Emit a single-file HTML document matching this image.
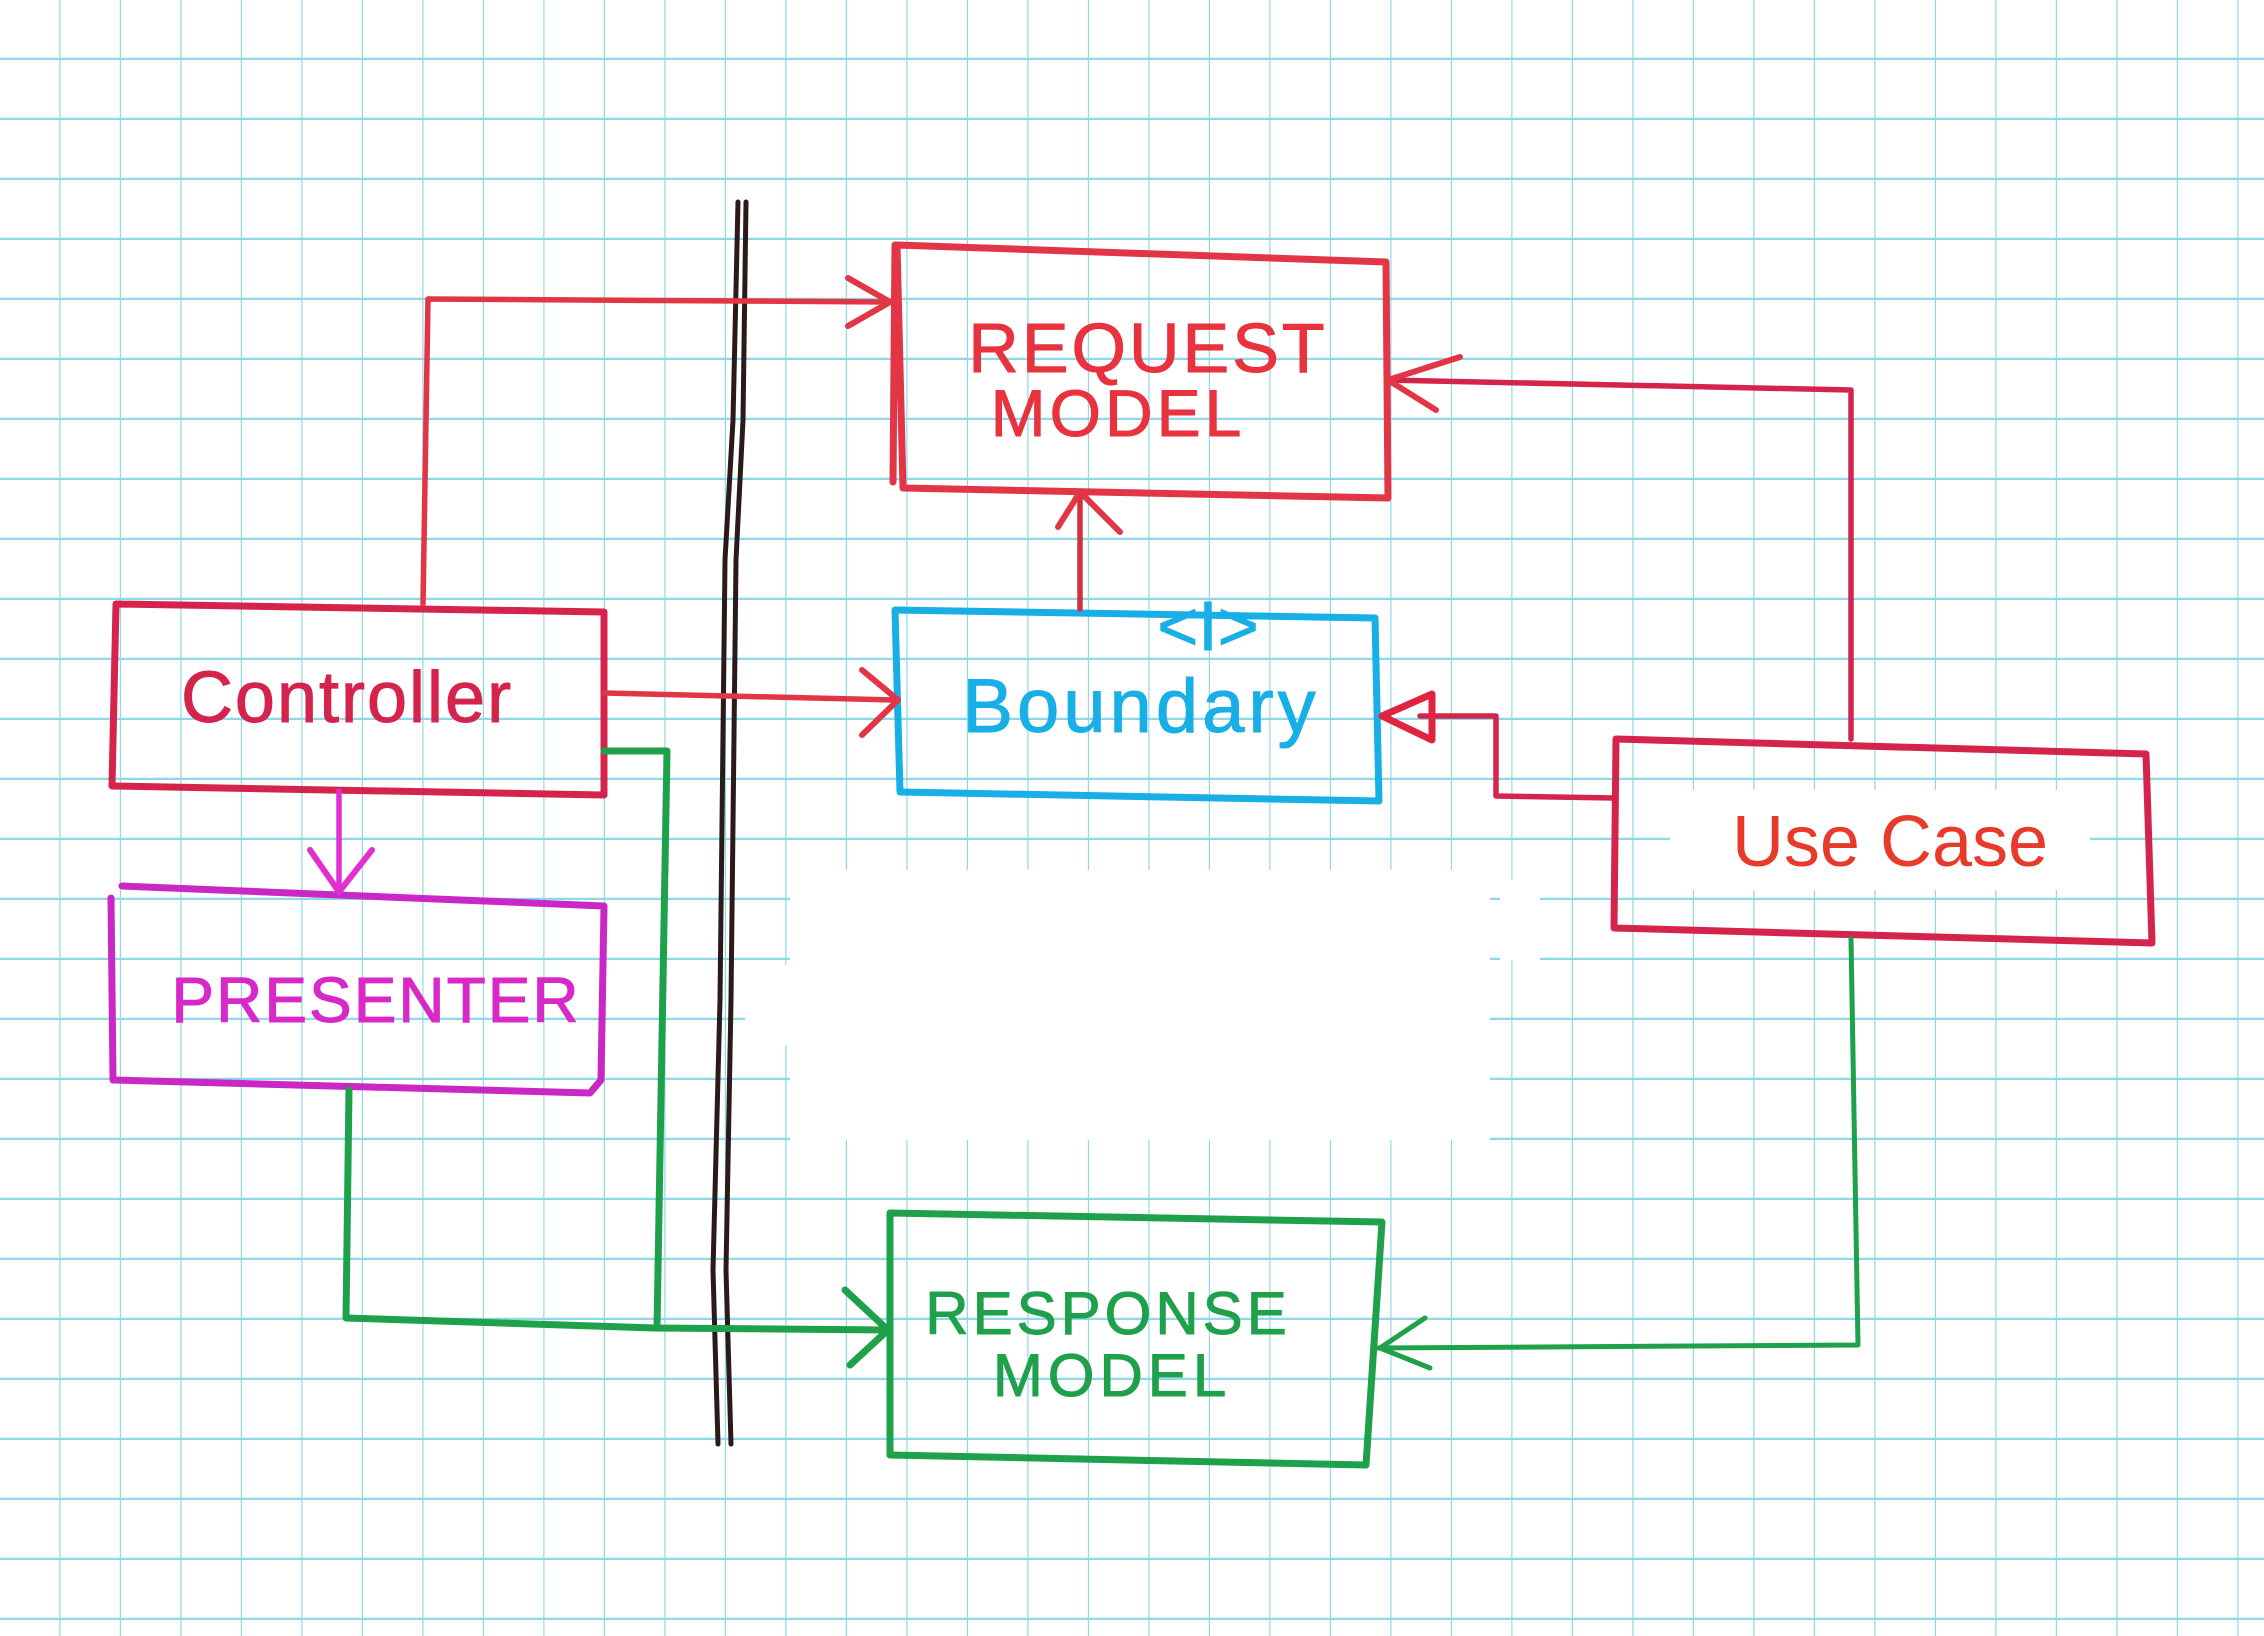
<!DOCTYPE html>
<html><head><meta charset="utf-8"><style>
html,body{margin:0;padding:0;background:#fff;}
svg{display:block;}
text{font-family:"Liberation Sans",sans-serif;stroke-width:1;}
</style></head><body>
<svg width="2264" height="1636" viewBox="0 0 2264 1636" xmlns="http://www.w3.org/2000/svg">
<defs>
<pattern id="g" x="0" y="0" width="60.5" height="60" patternUnits="userSpaceOnUse">
<path d="M60.5 0V60M0 59H60.5" stroke="#8fd8e8" stroke-width="2.4" fill="none"/>
</pattern>
</defs>
<rect width="2264" height="1636" fill="#fff"/>
<rect x="0" y="0" width="2264" height="1636" fill="url(#g)"/>
<rect x="790" y="870" width="700" height="270" fill="#fff"/>
<rect x="745" y="965" width="140" height="80" fill="#fff"/>
<rect x="1500" y="880" width="40" height="80" fill="#fff"/>
<rect x="1670" y="790" width="420" height="100" fill="#fff"/>

<g fill="none" stroke-linecap="round" stroke-linejoin="round">
<path d="M738 202 L733 420 L725 560 L720 1000 L713 1270 L718 1444" stroke="#2a1a1a" stroke-width="5"/>
<path d="M746 202 L743 420 L736 560 L731 1000 L726 1270 L731 1444" stroke="#2a1a1a" stroke-width="5"/>

<path d="M897 245 L1386 262 L1388 498 L903 488 Z M895 245 L893 482" stroke="#e23545" stroke-width="7"/>
<path d="M895 610 L1375 618 L1379 801 L900 792 Z" stroke="#18aee6" stroke-width="7"/>
<path d="M116 604 L604 612 L604 795 L112 786 Z" stroke="#d4244c" stroke-width="7"/>
<path d="M122 886 L604 906 L601 1080 L590 1093 L113 1080 L111 898" stroke="#c928c4" stroke-width="7"/>
<path d="M1616 739 L2146 754 L2152 943 L1614 928 Z" stroke="#d4244c" stroke-width="7"/>
<path d="M890 1213 L1382 1222 L1366 1465 L890 1455 Z" stroke="#1ea14a" stroke-width="7"/>

<path d="M423 604 L428 299 L890 302" stroke="#e23545" stroke-width="5.5"/>
<path d="M848 278 L890 302 L848 326" stroke="#e23545" stroke-width="6"/>
<path d="M604 693 L895 700" stroke="#e23545" stroke-width="5.5"/>
<path d="M862 670 L898 700 L862 735" stroke="#e23545" stroke-width="6"/>
<path d="M1080 609 L1080 492" stroke="#d33040" stroke-width="5.5"/>
<path d="M1058 527 L1080 492 L1120 532" stroke="#e23545" stroke-width="6"/>
<path d="M1851 739 L1851 390 L1388 380" stroke="#d4244c" stroke-width="5.5"/>
<path d="M1460 357 L1388 380 L1436 410" stroke="#e23545" stroke-width="6"/>
<path d="M1614 798 L1496 796 L1496 716 L1420 716" stroke="#d4244c" stroke-width="5.5"/>
<path d="M1432 694 L1382 716 L1432 740 Z" stroke="#e0233f" stroke-width="7"/>
<path d="M339 791 L339 888" stroke="#e030d0" stroke-width="5.5"/>
<path d="M310 850 L339 892 L372 850" stroke="#e030d0" stroke-width="6"/>
<path d="M349 1090 L346 1318 L655 1328 L888 1330" stroke="#1ea14a" stroke-width="7"/>
<path d="M604 751 L667 751 L657 1328" stroke="#1ea14a" stroke-width="7"/>
<path d="M845 1290 L888 1330 L850 1365" stroke="#1ea14a" stroke-width="7"/>
<path d="M1851 939 L1858 1345 L1378 1348" stroke="#1ea14a" stroke-width="5"/>
<path d="M1425 1318 L1380 1348 L1430 1368" stroke="#1ea14a" stroke-width="5"/>
</g>

<text x="1148" y="372" font-size="70" fill="#e8323e" stroke="#e8323e" text-anchor="middle" letter-spacing="3">REQUEST</text>
<text x="1118" y="436" font-size="66" fill="#e8323e" stroke="#e8323e" text-anchor="middle" letter-spacing="4">MODEL</text>
<text x="1208" y="650" font-size="70" fill="#18aee6" stroke="#18aee6" text-anchor="middle">&lt;I&gt;</text>
<text x="1141" y="732" font-size="76" fill="#18aee6" stroke="#18aee6" text-anchor="middle" letter-spacing="4">Boundary</text>
<text x="347" y="722" font-size="72" fill="#d4244c" stroke="#d4244c" text-anchor="middle" letter-spacing="2">Controller</text>
<text x="376" y="1022" font-size="64" fill="#d828c8" stroke="#d828c8" text-anchor="middle" letter-spacing="2">PRESENTER</text>
<text x="1890" y="866" font-size="72" fill="#e83a2a" text-anchor="middle">Use Case</text>
<text x="1108" y="1334" font-size="60" fill="#1ea14a" stroke="#1ea14a" text-anchor="middle" letter-spacing="4">RESPONSE</text>
<text x="1112" y="1396" font-size="60" fill="#1ea14a" stroke="#1ea14a" text-anchor="middle" letter-spacing="5">MODEL</text>
</svg>
</body></html>
